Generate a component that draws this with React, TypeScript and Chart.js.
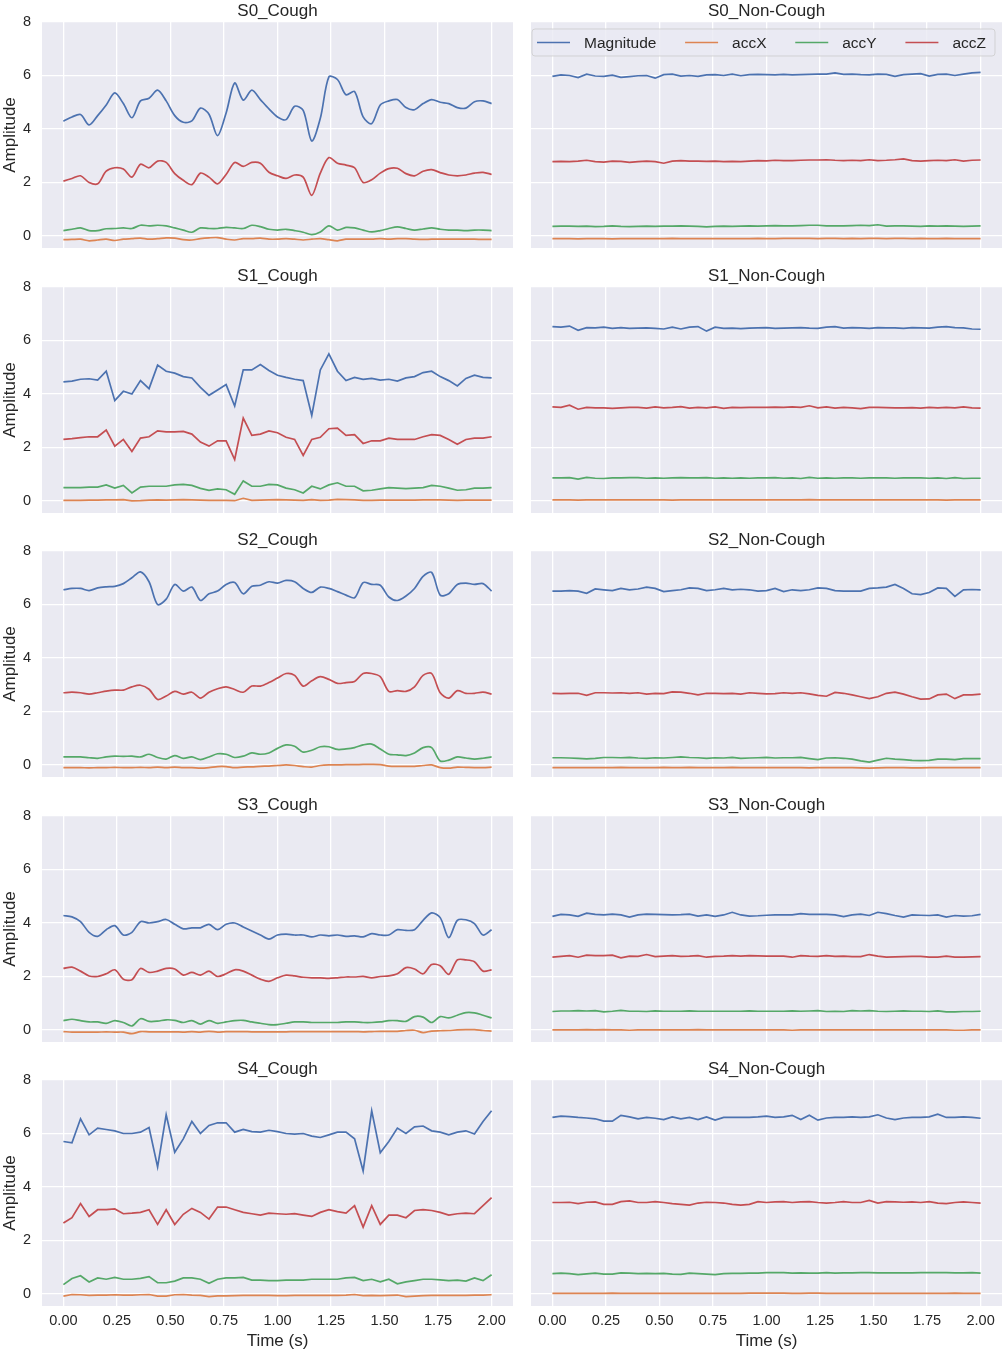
import React, { useEffect, useRef } from "react";
import Chart from "chart.js/auto";

// ---- data ----
const TIME = [
  0, 0.04, 0.08, 0.12, 0.16, 0.2, 0.24, 0.28, 0.32, 0.36,
  0.4, 0.44, 0.48, 0.52, 0.56, 0.6, 0.64, 0.68, 0.72, 0.76,
  0.8, 0.84, 0.88, 0.92, 0.96, 1.0, 1.04, 1.08, 1.12, 1.16,
  1.2, 1.24, 1.28, 1.32, 1.36, 1.4, 1.44, 1.48, 1.52, 1.56,
  1.6, 1.64, 1.68, 1.72, 1.76, 1.8, 1.84, 1.88, 1.92, 1.96, 2.0,
];

const SERIES_NAMES = ["Magnitude", "accX", "accY", "accZ"];
const SERIES_COLORS = ["#4C72B0", "#DD8452", "#55A868", "#C44E52"];

const PANEL_TITLES = [
  "S0_Cough", "S0_Non-Cough",
  "S1_Cough", "S1_Non-Cough",
  "S2_Cough", "S2_Non-Cough",
  "S3_Cough", "S3_Non-Cough",
  "S4_Cough", "S4_Non-Cough",
];

const X_TICKS = [0, 0.25, 0.5, 0.75, 1.0, 1.25, 1.5, 1.75, 2.0];
const Y_TICKS = [0, 2, 4, 6, 8];

// S0 cough
const S0_COUGH_MAG = [
  4.29, 4.45, 4.54, 4.15, 4.5, 4.9, 5.35, 4.95, 4.42, 5.05,
  5.15, 5.45, 5.05, 4.5, 4.25, 4.3, 4.78, 4.55, 3.75, 4.6,
  5.72, 5.08, 5.45, 5.1, 4.75, 4.45, 4.35, 4.85, 4.7, 3.55,
  4.4, 5.95, 5.85, 5.28, 5.4, 4.45, 4.2, 4.9, 5.05, 5.1,
  4.8, 4.72, 4.95, 5.1, 5.0, 4.95, 4.8, 4.78, 5.02, 5.05, 4.95,
];
const S0_COUGH_X = [
  -0.14, -0.13, -0.12, -0.18, -0.15, -0.12, -0.17, -0.12, -0.1, -0.08,
  -0.12, -0.1, -0.07, -0.08, -0.14, -0.15, -0.1, -0.07, -0.06, -0.12,
  -0.15, -0.1, -0.1, -0.08, -0.12, -0.12, -0.1, -0.12, -0.15, -0.12,
  -0.1, -0.14, -0.18, -0.12, -0.12, -0.12, -0.12, -0.1, -0.12, -0.1,
  -0.1, -0.12, -0.13, -0.12, -0.12, -0.12, -0.12, -0.12, -0.12, -0.13, -0.13,
];
const S0_COUGH_Y = [
  0.2, 0.25, 0.3, 0.2, 0.2, 0.27, 0.28, 0.3, 0.28, 0.4,
  0.38, 0.4, 0.38, 0.3, 0.22, 0.14, 0.3, 0.28, 0.28, 0.32,
  0.3, 0.28, 0.4, 0.35, 0.25, 0.22, 0.25, 0.2, 0.14, 0.05,
  0.15, 0.38, 0.22, 0.32, 0.3, 0.22, 0.15, 0.2, 0.28, 0.34,
  0.28, 0.22, 0.26, 0.3, 0.25, 0.22, 0.22, 0.2, 0.22, 0.22, 0.2,
];
const S0_COUGH_Z = [
  2.05, 2.15, 2.25, 2.0, 1.95, 2.42, 2.55, 2.5, 2.2, 2.68,
  2.55, 2.8, 2.75, 2.33, 2.08, 1.92, 2.35, 2.2, 1.95, 2.3,
  2.75, 2.6, 2.75, 2.72, 2.38, 2.25, 2.15, 2.28, 2.2, 1.52,
  2.35, 2.93, 2.72, 2.65, 2.55, 2.0, 2.1, 2.35, 2.52, 2.53,
  2.33, 2.25, 2.42, 2.48, 2.37, 2.28, 2.25, 2.28, 2.35, 2.38, 2.3,
];

// S0 non-cough
const S0_NON_MAG = [
  5.97, 6.02, 6.0, 5.92, 6.05, 5.98, 5.97, 6.01, 5.93, 5.96,
  5.99, 6.0, 5.9, 6.03, 6.05, 5.98, 6.0, 5.97, 6.02, 6.03,
  6.0, 6.05, 5.99, 6.03, 6.04, 6.03, 6.02, 6.04, 6.02, 6.03,
  6.04, 6.05, 6.05, 6.1, 6.04, 6.05, 6.03, 6.02, 6.05, 6.04,
  5.97, 6.03, 6.05, 6.07, 5.98, 6.04, 6.05, 6.0, 6.05, 6.1, 6.12,
];
const S0_NON_X = [
  -0.1, -0.1, -0.1, -0.11, -0.1, -0.1, -0.1, -0.11, -0.1, -0.1,
  -0.1, -0.1, -0.1, -0.1, -0.09, -0.1, -0.1, -0.1, -0.1, -0.1,
  -0.1, -0.1, -0.1, -0.1, -0.09, -0.1, -0.1, -0.09, -0.09, -0.09,
  -0.09, -0.1, -0.09, -0.09, -0.1, -0.09, -0.1, -0.09, -0.09, -0.1,
  -0.09, -0.09, -0.1, -0.09, -0.1, -0.1, -0.09, -0.1, -0.1, -0.1, -0.1,
];
const S0_NON_Y = [
  0.36, 0.37, 0.37, 0.36, 0.37, 0.35, 0.36, 0.38, 0.36, 0.35,
  0.36, 0.37, 0.36, 0.37, 0.37, 0.38, 0.37, 0.36, 0.34, 0.36,
  0.37, 0.36, 0.37, 0.38, 0.37, 0.38, 0.39, 0.38, 0.38, 0.39,
  0.4, 0.4, 0.38, 0.38, 0.38, 0.39, 0.4, 0.39, 0.42, 0.37,
  0.38, 0.38, 0.37, 0.36, 0.38, 0.37, 0.38, 0.37, 0.36, 0.37, 0.38,
];
const S0_NON_Z = [
  2.78, 2.79, 2.78, 2.8, 2.83, 2.78, 2.76, 2.8, 2.79, 2.75,
  2.78, 2.8, 2.78, 2.72, 2.8, 2.82, 2.8, 2.8, 2.79, 2.8,
  2.78, 2.79, 2.78, 2.8, 2.82, 2.81, 2.83, 2.82, 2.82, 2.83,
  2.84, 2.84, 2.85, 2.83, 2.82, 2.83, 2.82, 2.85, 2.82, 2.83,
  2.85, 2.88, 2.82, 2.8, 2.82, 2.83, 2.82, 2.85, 2.8, 2.83, 2.84,
];

// S1 cough
const S1_COUGH_MAG = [
  4.45, 4.48, 4.55, 4.57, 4.52, 4.85, 3.75, 4.1, 4.0, 4.5,
  4.2, 5.08, 4.85, 4.78, 4.65, 4.6, 4.25, 3.95, 4.15, 4.35,
  3.55, 4.9, 4.9, 5.1, 4.88, 4.7, 4.62, 4.55, 4.5, 3.2,
  4.9, 5.5, 4.85, 4.5, 4.62, 4.55, 4.58, 4.52, 4.55, 4.48,
  4.6, 4.65, 4.8, 4.85, 4.65, 4.5, 4.3, 4.58, 4.7, 4.62, 4.6,
];
const S1_COUGH_X = [
  0.02, 0.02, 0.02, 0.03, 0.03, 0.04, 0.04, 0.05, 0.0, 0.01,
  0.03, 0.04, 0.03, 0.04, 0.05, 0.04, 0.03, 0.02, 0.02, 0.02,
  0.01, 0.1, 0.02, 0.03, 0.04, 0.05, 0.04, 0.03, 0.02, 0.05,
  0.02, 0.03, 0.06, 0.05, 0.04, 0.02, 0.02, 0.03, 0.03, 0.03,
  0.03, 0.03, 0.04, 0.04, 0.04, 0.03, 0.02, 0.03, 0.03, 0.03, 0.03,
];
const S1_COUGH_Y = [
  0.5, 0.5, 0.5, 0.52, 0.52, 0.6, 0.48, 0.58, 0.3, 0.52,
  0.55, 0.55, 0.55, 0.6, 0.62, 0.58, 0.47, 0.4, 0.45, 0.42,
  0.25, 0.75, 0.55, 0.55, 0.62, 0.6, 0.48, 0.42, 0.3, 0.55,
  0.45, 0.6, 0.68, 0.55, 0.55, 0.38, 0.4, 0.45, 0.5, 0.48,
  0.46, 0.48, 0.5, 0.58, 0.55, 0.48, 0.4, 0.42, 0.48, 0.48, 0.5,
];
const S1_COUGH_Z = [
  2.3, 2.33, 2.37, 2.4, 2.4, 2.65, 2.05, 2.3, 1.85, 2.35,
  2.4, 2.62, 2.58, 2.58, 2.6, 2.5, 2.2, 2.05, 2.25, 2.25,
  1.55, 3.1, 2.45, 2.5, 2.62, 2.55, 2.38, 2.3, 1.7, 2.3,
  2.38, 2.7, 2.72, 2.45, 2.48, 2.15, 2.25, 2.25, 2.35, 2.3,
  2.3, 2.3, 2.4, 2.48, 2.45, 2.3, 2.12, 2.3, 2.35, 2.35, 2.4,
];

// S1 non-cough
const S1_NON_MAG = [
  6.52, 6.5, 6.54, 6.38, 6.48, 6.47, 6.5, 6.45, 6.48, 6.45,
  6.46, 6.47, 6.45, 6.43, 6.5, 6.43, 6.5, 6.52, 6.35, 6.5,
  6.45, 6.46, 6.44, 6.46, 6.47, 6.48, 6.45, 6.46, 6.47, 6.48,
  6.46, 6.45, 6.5, 6.52, 6.46, 6.48, 6.47, 6.45, 6.48, 6.47,
  6.47, 6.45, 6.48, 6.47, 6.46, 6.5, 6.52, 6.48, 6.47, 6.43, 6.42,
];
const S1_NON_X = [
  0.04, 0.04, 0.04, 0.03, 0.04, 0.04, 0.04, 0.04, 0.04, 0.04,
  0.04, 0.04, 0.04, 0.04, 0.03, 0.04, 0.04, 0.04, 0.04, 0.04,
  0.04, 0.04, 0.04, 0.04, 0.04, 0.04, 0.04, 0.04, 0.04, 0.04,
  0.05, 0.04, 0.04, 0.04, 0.04, 0.04, 0.04, 0.04, 0.04, 0.04,
  0.04, 0.04, 0.04, 0.04, 0.04, 0.04, 0.03, 0.04, 0.04, 0.04, 0.04,
];
const S1_NON_Y = [
  0.86, 0.86, 0.87, 0.82, 0.88, 0.85, 0.84, 0.86, 0.86, 0.87,
  0.87, 0.85, 0.86, 0.85, 0.86, 0.87, 0.86, 0.86, 0.87, 0.85,
  0.86, 0.85, 0.86, 0.85, 0.86, 0.86, 0.87, 0.85, 0.86, 0.84,
  0.88, 0.85, 0.86, 0.85, 0.86, 0.86, 0.85, 0.86, 0.86, 0.86,
  0.85, 0.86, 0.86, 0.86, 0.85, 0.86, 0.84, 0.87, 0.84, 0.85, 0.85,
];
const S1_NON_Z = [
  3.52, 3.5, 3.58, 3.43, 3.5, 3.48, 3.48, 3.46, 3.48, 3.5,
  3.5, 3.47, 3.52, 3.48, 3.5, 3.53, 3.47, 3.5, 3.48, 3.52,
  3.46, 3.5, 3.49, 3.5, 3.5, 3.5, 3.51, 3.5, 3.52, 3.5,
  3.56, 3.48, 3.52, 3.47, 3.5, 3.48, 3.45, 3.5, 3.5, 3.49,
  3.48, 3.48, 3.49, 3.47, 3.5, 3.48, 3.5, 3.48, 3.52, 3.48, 3.47,
];

// S2 cough
const S2_COUGH_MAG = [
  6.55, 6.6, 6.6, 6.52, 6.62, 6.66, 6.68, 6.78, 7.0, 7.22,
  6.85, 6.0, 6.2, 6.75, 6.5, 6.65, 6.15, 6.4, 6.5, 6.75,
  6.82, 6.4, 6.68, 6.72, 6.85, 6.8, 6.9, 6.85, 6.6, 6.45,
  6.65, 6.6, 6.48, 6.35, 6.25, 6.82, 6.75, 6.72, 6.28, 6.15,
  6.32, 6.6, 7.05, 7.2, 6.35, 6.4, 6.75, 6.8, 6.75, 6.78, 6.5,
];
const S2_COUGH_X = [
  -0.1, -0.1, -0.1, -0.11, -0.1, -0.1, -0.09, -0.1, -0.1, -0.09,
  -0.1, -0.08, -0.1, -0.08, -0.1, -0.1, -0.12, -0.1, -0.06, -0.06,
  -0.1, -0.08, -0.07, -0.05, -0.04, -0.02, 0.0, -0.02, -0.06, -0.08,
  -0.02, 0.0, 0.0, 0.01, 0.01, 0.02, 0.02, 0.01, -0.04, -0.05,
  -0.05, -0.05, -0.02, 0.0, -0.1, -0.12, -0.08, -0.09, -0.1, -0.1, -0.08,
];
const S2_COUGH_Y = [
  0.3, 0.3, 0.3, 0.27, 0.25, 0.3, 0.33, 0.32, 0.33, 0.3,
  0.4, 0.28, 0.22, 0.35, 0.25, 0.3, 0.2, 0.3, 0.42, 0.4,
  0.28, 0.33, 0.45, 0.4, 0.45, 0.62, 0.75, 0.7, 0.48, 0.55,
  0.68, 0.68, 0.58, 0.6, 0.65, 0.75, 0.78, 0.6, 0.4, 0.38,
  0.35, 0.45, 0.65, 0.65, 0.15, 0.18, 0.3, 0.26, 0.22, 0.25, 0.3,
];
const S2_COUGH_Z = [
  2.7, 2.72, 2.7, 2.65, 2.7, 2.76, 2.8, 2.8, 2.92, 2.98,
  2.83, 2.45, 2.58, 2.75, 2.65, 2.72, 2.5, 2.72, 2.85, 2.92,
  2.82, 2.72, 2.95, 2.95, 3.08, 3.25, 3.42, 3.35, 2.95, 3.15,
  3.3, 3.2, 3.05, 3.08, 3.12, 3.42, 3.42, 3.3, 2.75, 2.78,
  2.75, 2.92, 3.35, 3.42, 2.7, 2.5, 2.78, 2.68, 2.68, 2.72, 2.65,
];

// S2 non-cough
const S2_NON_MAG = [
  6.5, 6.5, 6.52, 6.5, 6.42, 6.58, 6.55, 6.52, 6.6, 6.55,
  6.58, 6.65, 6.6, 6.48, 6.52, 6.55, 6.62, 6.6, 6.52, 6.55,
  6.6, 6.55, 6.57, 6.55, 6.5, 6.52, 6.6, 6.48, 6.55, 6.52,
  6.55, 6.62, 6.6, 6.52, 6.5, 6.5, 6.5, 6.6, 6.62, 6.65,
  6.75, 6.6, 6.4, 6.37, 6.45, 6.62, 6.6, 6.3, 6.55, 6.56, 6.55,
];
const S2_NON_X = [
  -0.1, -0.1, -0.1, -0.1, -0.1, -0.1, -0.1, -0.1, -0.09, -0.1,
  -0.1, -0.1, -0.1, -0.09, -0.1, -0.1, -0.09, -0.1, -0.1, -0.1,
  -0.1, -0.09, -0.1, -0.1, -0.1, -0.1, -0.1, -0.1, -0.1, -0.1,
  -0.11, -0.1, -0.1, -0.1, -0.1, -0.1, -0.11, -0.12, -0.11, -0.1,
  -0.1, -0.1, -0.11, -0.11, -0.1, -0.1, -0.1, -0.1, -0.1, -0.1, -0.1,
];
const S2_NON_Y = [
  0.27, 0.27, 0.26, 0.25, 0.23, 0.25, 0.28, 0.28, 0.27, 0.28,
  0.26, 0.25, 0.27, 0.26, 0.28, 0.3, 0.28, 0.27, 0.25, 0.27,
  0.26, 0.28, 0.25, 0.26, 0.27, 0.28, 0.26, 0.27, 0.27, 0.28,
  0.24, 0.2, 0.26, 0.27, 0.25, 0.22, 0.15, 0.11, 0.18, 0.25,
  0.22, 0.2, 0.17, 0.16, 0.17, 0.22, 0.22, 0.2, 0.24, 0.24, 0.24,
];
const S2_NON_Z = [
  2.68, 2.67, 2.68, 2.68, 2.6, 2.7, 2.7, 2.69, 2.7, 2.68,
  2.7, 2.65, 2.68, 2.67, 2.73, 2.72, 2.68, 2.62, 2.68, 2.68,
  2.67, 2.68, 2.65, 2.7, 2.68, 2.66, 2.67, 2.7, 2.68, 2.7,
  2.66, 2.6, 2.57, 2.71, 2.68, 2.62, 2.55, 2.48, 2.55, 2.68,
  2.72, 2.65, 2.55, 2.46, 2.47, 2.62, 2.65, 2.48, 2.62, 2.62, 2.65,
];

// S3 cough
const S3_COUGH_MAG = [
  4.28, 4.23, 4.05, 3.65, 3.5, 3.75, 3.9, 3.55, 3.65, 4.05,
  4.0, 4.05, 4.13, 3.95, 3.78, 3.82, 3.82, 3.95, 3.75, 3.95,
  4.0, 3.85, 3.7, 3.55, 3.4, 3.55, 3.58, 3.55, 3.55, 3.48,
  3.55, 3.52, 3.55, 3.5, 3.52, 3.48, 3.6, 3.55, 3.55, 3.75,
  3.72, 3.75, 4.1, 4.38, 4.2, 3.45, 4.1, 4.12, 3.98, 3.55, 3.75,
];
const S3_COUGH_X = [
  -0.06, -0.08, -0.08, -0.08, -0.08, -0.07, -0.08, -0.08, -0.14, -0.06,
  -0.07, -0.07, -0.07, -0.07, -0.08, -0.06, -0.08, -0.05, -0.08, -0.06,
  -0.06, -0.06, -0.07, -0.07, -0.07, -0.07, -0.07, -0.06, -0.06, -0.06,
  -0.06, -0.06, -0.06, -0.06, -0.06, -0.07, -0.06, -0.05, -0.05, -0.05,
  -0.02, -0.01, -0.1, -0.04, -0.03, -0.02, 0.0, 0.01, 0.01, -0.02, -0.04,
];
const S3_COUGH_Y = [
  0.35, 0.4, 0.35, 0.3, 0.3, 0.25, 0.35, 0.28, 0.15, 0.42,
  0.32, 0.33, 0.38, 0.36, 0.28, 0.35, 0.22, 0.35, 0.25, 0.3,
  0.35, 0.36, 0.3, 0.25, 0.2, 0.2, 0.25, 0.3, 0.3, 0.28,
  0.28, 0.28, 0.28, 0.3, 0.3, 0.28, 0.28, 0.3, 0.35, 0.35,
  0.32, 0.5, 0.48, 0.28, 0.5, 0.45, 0.55, 0.65, 0.64, 0.55, 0.45,
];
const S3_COUGH_Z = [
  2.3, 2.35, 2.2, 2.02, 2.0, 2.1, 2.25, 1.9, 1.88, 2.3,
  2.15, 2.2, 2.3, 2.28, 2.05, 2.15, 2.05, 2.2, 2.0, 2.1,
  2.25, 2.2, 2.05, 1.9, 1.82, 1.95, 2.05, 2.02, 1.97, 1.95,
  1.95, 1.93, 1.95, 1.98, 1.98, 2.0, 1.95, 2.0, 2.02, 2.1,
  2.33, 2.28, 2.1, 2.45, 2.4, 2.08, 2.62, 2.62, 2.55, 2.2, 2.25,
];

// S3 non-cough
const S3_NON_MAG = [
  4.25, 4.32, 4.3, 4.25, 4.37, 4.32, 4.3, 4.33, 4.3, 4.22,
  4.3, 4.33, 4.32, 4.31, 4.3, 4.31, 4.33, 4.26, 4.3, 4.25,
  4.3, 4.4, 4.3, 4.26, 4.27, 4.29, 4.3, 4.3, 4.3, 4.35,
  4.32, 4.32, 4.32, 4.3, 4.24, 4.3, 4.33, 4.28, 4.4, 4.35,
  4.28, 4.22, 4.3, 4.29, 4.28, 4.3, 4.22, 4.28, 4.26, 4.27, 4.32,
];
const S3_NON_X = [
  0.0, 0.0, 0.0, 0.0, 0.01, 0.0, 0.01, 0.0, 0.0, -0.01,
  0.0, 0.0, 0.0, 0.0, 0.0, 0.0, 0.0, 0.01, 0.0, 0.0,
  0.0, 0.0, 0.0, 0.0, 0.0, 0.0, 0.0, 0.0, -0.01, 0.0,
  0.0, 0.0, 0.0, 0.0, 0.0, 0.0, 0.0, 0.0, 0.0, 0.0,
  0.0, 0.0, 0.0, 0.0, 0.0, 0.0, 0.0, -0.01, -0.01, 0.0, 0.0,
];
const S3_NON_Y = [
  0.69, 0.71, 0.71, 0.72, 0.71, 0.72, 0.68, 0.7, 0.73, 0.7,
  0.7, 0.69, 0.71, 0.7, 0.7, 0.7, 0.71, 0.7, 0.7, 0.7,
  0.7, 0.7, 0.7, 0.71, 0.7, 0.7, 0.7, 0.7, 0.71, 0.7,
  0.71, 0.72, 0.69, 0.7, 0.69, 0.72, 0.71, 0.72, 0.7, 0.69,
  0.7, 0.71, 0.7, 0.7, 0.69, 0.71, 0.68, 0.68, 0.69, 0.69, 0.7,
];
const S3_NON_Z = [
  2.72, 2.75, 2.78, 2.72, 2.8, 2.78, 2.78, 2.8, 2.7, 2.76,
  2.75, 2.82, 2.74, 2.76, 2.78, 2.75, 2.76, 2.78, 2.72, 2.75,
  2.76, 2.78, 2.76, 2.78, 2.77, 2.76, 2.76, 2.76, 2.72, 2.78,
  2.76, 2.75, 2.78, 2.75, 2.76, 2.74, 2.74, 2.82, 2.76, 2.72,
  2.73, 2.74, 2.75, 2.75, 2.72, 2.72, 2.76, 2.72, 2.72, 2.73, 2.74,
];

// S4 cough
const S4_COUGH_MAG = [
  5.7, 5.65, 6.55, 5.95, 6.2, 6.15, 6.1, 6.0, 6.0, 6.05,
  6.22, 4.75, 6.7, 5.3, 5.8, 6.45, 6.0, 6.3, 6.4, 6.4,
  6.05, 6.15, 6.07, 6.05, 6.12, 6.07, 6.0, 5.98, 6.0, 5.9,
  5.85, 5.95, 6.05, 6.05, 5.8, 4.6, 6.85, 5.28, 5.7, 6.2,
  6.0, 6.25, 6.28, 6.1, 6.05, 5.95, 6.05, 6.1, 5.98, 6.45, 6.85,
];
const S4_COUGH_X = [
  -0.08, -0.02, -0.03, -0.05, -0.04, -0.04, -0.03, -0.04, -0.04, -0.03,
  -0.02, -0.08, -0.08, -0.03, -0.02, -0.04, -0.05, -0.1, -0.07, -0.07,
  -0.06, -0.05, -0.05, -0.05, -0.05, -0.06, -0.06, -0.05, -0.05, -0.05,
  -0.05, -0.05, -0.05, -0.04, -0.02, -0.06, -0.05, -0.06, -0.05, -0.04,
  -0.1, -0.08, -0.06, -0.05, -0.05, -0.05, -0.05, -0.05, -0.04, -0.04, -0.03,
];
const S4_COUGH_Y = [
  0.35, 0.58, 0.68, 0.45, 0.6, 0.55, 0.62, 0.55, 0.55, 0.58,
  0.65, 0.42, 0.42, 0.48, 0.6, 0.6, 0.55, 0.4, 0.55, 0.6,
  0.6, 0.62, 0.52, 0.52, 0.5, 0.5, 0.52, 0.52, 0.52, 0.55,
  0.55, 0.55, 0.55, 0.6, 0.62, 0.5, 0.55, 0.45, 0.55, 0.38,
  0.45, 0.5, 0.55, 0.55, 0.53, 0.5, 0.52, 0.48, 0.6, 0.5, 0.72,
];
const S4_COUGH_Z = [
  2.65, 2.85, 3.38, 2.9, 3.15, 3.15, 3.18, 3.0, 3.02, 3.05,
  3.15, 2.6, 3.15, 2.6, 2.98, 3.2, 3.05, 2.8, 3.25, 3.25,
  3.15, 3.05, 3.0, 2.95, 3.02, 3.0, 2.98, 3.0, 2.95, 2.9,
  3.05, 3.15, 3.08, 3.02, 3.3, 2.5, 3.3, 2.6, 2.95, 2.95,
  2.85, 3.12, 3.15, 3.12, 3.05, 2.95, 3.0, 3.02, 3.0, 3.3, 3.6,
];

// S4 non-cough
const S4_NON_MAG = [
  6.6, 6.65, 6.63, 6.6, 6.58, 6.55, 6.46, 6.46, 6.68, 6.62,
  6.55, 6.6, 6.57, 6.52, 6.62, 6.55, 6.6, 6.52, 6.62, 6.5,
  6.6, 6.6, 6.6, 6.6, 6.62, 6.65, 6.6, 6.62, 6.68, 6.52,
  6.68, 6.5, 6.58, 6.6, 6.6, 6.62, 6.6, 6.62, 6.7, 6.58,
  6.52, 6.58, 6.6, 6.6, 6.62, 6.72, 6.6, 6.6, 6.62, 6.6, 6.57,
];
const S4_NON_X = [
  0.02, 0.02, 0.02, 0.02, 0.02, 0.02, 0.02, 0.03, 0.02, 0.02,
  0.02, 0.02, 0.02, 0.02, 0.02, 0.02, 0.02, 0.02, 0.02, 0.02,
  0.02, 0.02, 0.02, 0.03, 0.03, 0.03, 0.03, 0.03, 0.02, 0.02,
  0.03, 0.03, 0.02, 0.02, 0.02, 0.02, 0.02, 0.02, 0.02, 0.02,
  0.02, 0.02, 0.02, 0.02, 0.02, 0.02, 0.02, 0.03, 0.02, 0.02, 0.02,
];
const S4_NON_Y = [
  0.76, 0.78, 0.76, 0.72, 0.75, 0.78, 0.74, 0.74, 0.79, 0.78,
  0.76, 0.77, 0.76, 0.77, 0.74, 0.73, 0.78, 0.76, 0.74, 0.72,
  0.76, 0.77, 0.77, 0.78, 0.78, 0.8, 0.8, 0.8, 0.78, 0.79,
  0.78, 0.78, 0.8, 0.78, 0.79, 0.79, 0.8, 0.8, 0.79, 0.79,
  0.79, 0.79, 0.79, 0.8, 0.8, 0.8, 0.8, 0.79, 0.79, 0.8, 0.78,
];
const S4_NON_Z = [
  3.42, 3.42, 3.43, 3.38, 3.43, 3.44, 3.35, 3.35, 3.45, 3.48,
  3.42, 3.42, 3.45, 3.42, 3.38, 3.35, 3.32, 3.4, 3.43, 3.42,
  3.4, 3.35, 3.32, 3.35, 3.45, 3.42, 3.44, 3.45, 3.42, 3.44,
  3.45, 3.42, 3.4, 3.42, 3.45, 3.42, 3.42, 3.5, 3.4, 3.45,
  3.44, 3.43, 3.44, 3.42, 3.45, 3.4, 3.38, 3.42, 3.44, 3.42, 3.4,
];

// panels in reading order (row by row, cough left / non-cough right)
const PANEL_SERIES = [
  [S0_COUGH_MAG, S0_COUGH_X, S0_COUGH_Y, S0_COUGH_Z],
  [S0_NON_MAG, S0_NON_X, S0_NON_Y, S0_NON_Z],
  [S1_COUGH_MAG, S1_COUGH_X, S1_COUGH_Y, S1_COUGH_Z],
  [S1_NON_MAG, S1_NON_X, S1_NON_Y, S1_NON_Z],
  [S2_COUGH_MAG, S2_COUGH_X, S2_COUGH_Y, S2_COUGH_Z],
  [S2_NON_MAG, S2_NON_X, S2_NON_Y, S2_NON_Z],
  [S3_COUGH_MAG, S3_COUGH_X, S3_COUGH_Y, S3_COUGH_Z],
  [S3_NON_MAG, S3_NON_X, S3_NON_Y, S3_NON_Z],
  [S4_COUGH_MAG, S4_COUGH_X, S4_COUGH_Y, S4_COUGH_Z],
  [S4_NON_MAG, S4_NON_X, S4_NON_Y, S4_NON_Z],
];

// ---- layout / style ----
const TEXT = "#262626";
const AXES_BG = "#EAEAF2";
const FONT = '"Liberation Sans", Arial, Helvetica, sans-serif';
const ROW_TOPS = [22, 287, 551, 816, 1080]; // top of each plot area
const TITLE_H = 22;
const PLOT_H = 226;
const XAXIS_H = 47; // bottom row, with tick labels and axis title
const SPACER_H = 12; // other rows: room for the half "0" tick label
const COL_LEFT = [0, 521];
const COL_WIDTH = [518, 485];
const COL_YAXIS_W = [42, 10];
const COL_PAD_RIGHT = [5, 4];
// the smoother-looking signals get a light curve, spiky ones stay straight
const SMOOTH_PANELS = [0, 4, 6];

Chart.defaults.font.family = FONT;
Chart.defaults.color = TEXT;

const axesBackground = {
  id: "axesBackground",
  beforeDraw(chart: any) {
    const { ctx, chartArea: a } = chart;
    ctx.save();
    ctx.fillStyle = AXES_BG;
    ctx.fillRect(a.left, a.top, a.right - a.left, a.bottom - a.top);
    ctx.restore();
  },
};

// matplotlib-style legend (mode="expand") drawn inside the plot area
const insideLegend = {
  id: "insideLegend",
  afterDraw(chart: any) {
    const { ctx, chartArea: a } = chart;
    const x0 = a.left + 1;
    const x1 = a.right - 7;
    const y0 = a.top + 7;
    const h = 27;
    const handle = 33;
    const handleGap = 14;
    ctx.save();
    ctx.beginPath();
    ctx.roundRect(x0, y0, x1 - x0, h, 3);
    ctx.fillStyle = "rgba(234,234,242,0.8)";
    ctx.fill();
    ctx.strokeStyle = "rgba(204,204,204,0.8)";
    ctx.lineWidth = 1;
    ctx.stroke();

    ctx.font = `15.5px ${FONT}`;
    const widths = SERIES_NAMES.map((n) => handle + handleGap + ctx.measureText(n).width);
    const innerL = x0 + 5;
    const innerR = x1 - 9;
    const total = widths.reduce((s, w) => s + w, 0);
    const gap = (innerR - innerL - total) / (SERIES_NAMES.length - 1);
    const cy = y0 + h / 2;
    let x = innerL;
    SERIES_NAMES.forEach((name, i) => {
      ctx.strokeStyle = SERIES_COLORS[i];
      ctx.lineWidth = 1.7;
      ctx.beginPath();
      ctx.moveTo(x, cy);
      ctx.lineTo(x + handle, cy);
      ctx.stroke();
      ctx.fillStyle = TEXT;
      ctx.textBaseline = "middle";
      ctx.textAlign = "left";
      ctx.fillText(name, x + handle + handleGap, cy + 1);
      x += widths[i] + gap;
    });
    ctx.restore();
  },
};

type PanelProps = { index: number };

const Panel = ({ index }: PanelProps) => {
  const chartRef = useRef<HTMLCanvasElement>(null);
  const row = Math.floor(index / 2);
  const col = index % 2;
  const isBottom = row === ROW_TOPS.length - 1;
  const xAxisH = isBottom ? XAXIS_H : SPACER_H;
  const width = COL_WIDTH[col];
  const height = TITLE_H + PLOT_H + xAxisH;

  useEffect(() => {
    const ctx = chartRef.current?.getContext("2d");
    if (!ctx) return;

    const series = PANEL_SERIES[index];
    const smooth = SMOOTH_PANELS.includes(index);
    const chart = new Chart(ctx, {
      type: "line",
      data: {
        datasets: SERIES_NAMES.map((name, i) => ({
          label: name,
          data: TIME.map((t, j) => ({ x: t, y: series[i][j] })),
          borderColor: SERIES_COLORS[i],
          backgroundColor: SERIES_COLORS[i],
          borderWidth: 1.7,
          pointRadius: 0,
          tension: smooth ? 0.3 : 0,
          fill: false,
        })),
      },
      options: {
        responsive: false,
        animation: false,
        events: [],
        layout: { padding: { left: 0, right: COL_PAD_RIGHT[col], top: 0, bottom: 0 } },
        plugins: {
          legend: { display: false },
          tooltip: { enabled: false },
          title: {
            display: true,
            text: PANEL_TITLES[index],
            color: TEXT,
            fullSize: false,
            font: { size: 17, weight: "normal", lineHeight: 1.2 },
            padding: { top: 1, bottom: 0.6 },
          },
        },
        scales: {
          x: {
            type: "linear",
            min: -0.1,
            max: 2.1,
            afterBuildTicks: (scale: any) => {
              scale.ticks = X_TICKS.map((v) => ({ value: v }));
            },
            ticks: {
              display: isBottom,
              color: TEXT,
              font: { size: 14.5 },
              padding: 6,
              maxRotation: 0,
              autoSkip: false,
              callback: (v: any) => Number(v).toFixed(2),
            },
            grid: { color: "#ffffff", lineWidth: 1.3, drawTicks: false },
            border: { display: false },
            title: {
              display: isBottom,
              text: "Time (s)",
              color: TEXT,
              font: { size: 17, lineHeight: 1.2 },
              padding: { top: 0, bottom: 1 },
            },
            afterFit: (scale: any) => {
              scale.height = xAxisH;
            },
          },
          y: {
            min: -0.45,
            max: 8,
            afterBuildTicks: (scale: any) => {
              scale.ticks = Y_TICKS.map((v) => ({ value: v }));
            },
            ticks: {
              display: col === 0,
              color: TEXT,
              font: { size: 14.5 },
              padding: 0,
            },
            grid: {
              color: "#ffffff",
              lineWidth: 1.3,
              drawTicks: true,
              tickLength: 11,
              tickColor: "rgba(0,0,0,0)",
            },
            border: { display: false },
            title: {
              display: col === 0,
              text: "Amplitude",
              color: TEXT,
              font: { size: 17, lineHeight: 1.2 },
              padding: { top: 0, bottom: 0 },
            },
            afterFit: (scale: any) => {
              scale.width = COL_YAXIS_W[col];
            },
          },
        },
      },
      plugins: index === 1 ? [axesBackground, insideLegend] : [axesBackground],
    } as any);

    return () => {
      chart.destroy();
    };
  }, [index]);

  return (
    <canvas
      ref={chartRef}
      width={width}
      height={height}
      style={{
        position: "absolute",
        left: COL_LEFT[col],
        top: ROW_TOPS[row] - TITLE_H,
        width,
        height,
      }}
    />
  );
};

const App = () => {
  return (
    <div
      style={{
        position: "absolute",
        left: 0,
        top: 0,
        width: 1006,
        height: 1353,
        background: "#ffffff",
        overflow: "hidden",
      }}
    >
      {PANEL_TITLES.map((_, i) => (
        <Panel key={i} index={i} />
      ))}
    </div>
  );
};

export default App;
